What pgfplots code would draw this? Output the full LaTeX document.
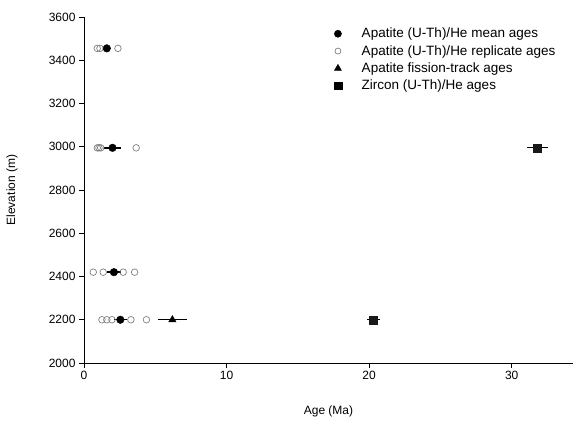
\documentclass[border=0pt]{standalone}
\usepackage{fontspec}
\setmainfont{Liberation Sans}
\usepackage{pgfplots}
\pgfplotsset{compat=1.18}
\definecolor{repgray}{RGB}{128,128,128}
\begin{document}
\begin{tikzpicture}
\begin{axis}[
  scale only axis, width=489pt, height=346pt,
  xmin=0, xmax=34.3, ymin=2000, ymax=3600,
  axis x line*=bottom, axis y line*=left,
  axis line style={black, line width=0.6pt},
  tick align=outside, major tick length=5pt,
  tick style={black, line width=0.6pt},
  xtick={0,10,20,30}, ytick={2000,2200,...,3600},
  font=\fontsize{12}{14}\selectfont,
  /pgf/number format/assume math mode=true,
  /pgf/number format/1000 sep={},
  xlabel={Age (Ma)}, ylabel={Elevation (m)},
  xlabel style={at={(axis description cs:0.5,-0.14)}, anchor=center},
  ylabel style={at={(axis description cs:-0.147,0.5)}, anchor=center},
  legend cell align=left,
  legend style={draw=none, fill=none, at={(0.505,0.98)}, anchor=north west,
    row sep=2pt, column sep=18pt, font=\fontsize{13.5}{15}\selectfont},
]
% legend entries
\addlegendimage{only marks, mark=*, mark size=3.6pt, black}
\addlegendentry{Apatite (U-Th)/He mean ages}
\addlegendimage{only marks, mark=o, mark size=3pt, repgray, line width=0.7pt}
\addlegendentry{Apatite (U-Th)/He replicate ages}
\addlegendimage{only marks, mark=triangle*, mark size=4pt, black}
\addlegendentry{Apatite fission-track ages}
\addlegendimage{only marks, mark=square*, mark size=3.8pt, black}
\addlegendentry{Zircon (U-Th)/He ages}

% apatite (U-Th)/He replicate ages
\addplot[only marks, mark=o, mark size=3.3pt, repgray, line width=0.7pt, forget plot]
coordinates {
 (0.93,3455) (1.12,3455) (2.38,3455)
 (0.93,2995) (1.05,2995) (1.17,2995) (3.66,2995)
 (0.65,2420) (1.35,2420) (2.75,2420) (3.55,2420)
 (1.26,2200) (1.60,2200) (1.96,2200) (3.29,2200) (4.38,2200)
};

% apatite (U-Th)/He mean ages
\addplot[only marks, mark=*, mark size=3.8pt, black, forget plot,
  error bars/.cd, x dir=both, x explicit, error mark=none,
  error bar style={line width=1.4pt, black}]
table[x=x, y=y, x error=e] {
x     y     e
1.60  3455  0.30
2.00  2995  0.60
2.10  2420  0.50
2.55  2200  0.45
};

% apatite fission-track age
\addplot[only marks, mark=triangle*, mark size=4.2pt, black, forget plot,
  error bars/.cd, x dir=both, x explicit, error mark=none,
  error bar style={line width=1pt, black}]
table[x=x, y=y, x error=e] {
x     y     e
6.20  2200  1.00
};

% zircon (U-Th)/He ages
\addplot[only marks, mark=square*, mark size=4pt, black!90, forget plot,
  error bars/.cd, x dir=both, x explicit, error mark=none,
  error bar style={line width=1pt, black}]
table[x=x, y=y, x error=e] {
x      y     e
20.30  2200  0.45
31.80  2995  0.75
};
\end{axis}
\pgfresetboundingbox
\path ([shift={(-84pt,-66pt)}]current axis.south west)
  rectangle ([shift={(4pt,17pt)}]current axis.north east);
\end{tikzpicture}
\end{document}
